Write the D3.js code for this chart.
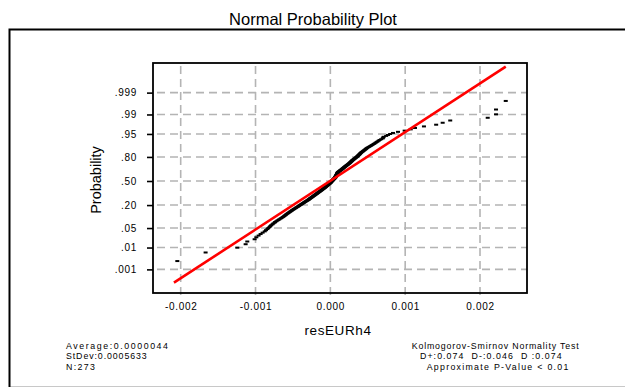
<!DOCTYPE html>
<html><head><meta charset="utf-8">
<script src="https://cdn.jsdelivr.net/npm/d3@7"></script>
<style>body{margin:0;background:#fff}svg{display:block}</style>
</head><body>
<svg id="c" width="625" height="388"></svg>
<script>
// sorted residuals (resEURh4)
const residuals = [
-0.002045,-0.001667,-0.001243,-0.001132,-0.00111,-0.001012,-0.000989,-0.000959,-0.000932,-0.000905,
-0.000877,-0.00086,-0.000841,-0.000828,-0.000813,-0.000802,-0.00079,-0.000774,-0.000763,-0.000747,
-0.000738,-0.000723,-0.000709,-0.000694,-0.000682,-0.000667,-0.000655,-0.000643,-0.000632,-0.00062,
-0.000611,-0.000602,-0.000593,-0.000584,-0.000575,-0.000565,-0.000556,-0.000547,-0.000538,-0.000529,
-0.00052,-0.000512,-0.000503,-0.000494,-0.000486,-0.000477,-0.000468,-0.000459,-0.000451,-0.000442,
-0.000434,-0.000427,-0.000419,-0.000412,-0.000404,-0.000396,-0.000389,-0.000381,-0.000374,-0.000366,
-0.000359,-0.000352,-0.000345,-0.000338,-0.000331,-0.000323,-0.000316,-0.000309,-0.000302,-0.000295,
-0.000289,-0.000284,-0.000278,-0.000272,-0.000267,-0.000261,-0.000255,-0.000249,-0.000244,-0.000238,
-0.000232,-0.000227,-0.000221,-0.000216,-0.00021,-0.000205,-0.000199,-0.000194,-0.000188,-0.000183,
-0.000178,-0.000173,-0.000168,-0.000163,-0.000158,-0.000153,-0.000147,-0.000142,-0.000137,-0.000132,
-0.000127,-0.000122,-0.000117,-0.000112,-0.000108,-0.000103,-0.000098,-0.000093,-0.000088,-0.000083,
-0.000079,-0.000075,-0.00007,-0.000066,-0.000062,-0.000058,-0.000054,-0.000049,-0.000045,-0.000041,
-0.000037,-0.000033,-0.000029,-0.000025,-0.000021,-0.000016,-0.000012,-0.000008,-0.000004,0,
0.000003,0.000006,0.000009,0.000012,0.000015,0.000019,0.000022,0.000025,0.000028,0.000031,
0.000034,0.000037,0.000041,0.000044,0.000047,0.000051,0.000054,0.000057,0.000061,0.000064,
0.000066,0.000068,0.00007,0.000072,0.000074,0.000076,0.000078,0.00008,0.000082,0.000084,
0.000086,0.000088,0.000089,0.000091,0.000093,0.000095,0.000097,0.000098,0.0001,0.000102,
0.000107,0.000112,0.000117,0.000122,0.000127,0.000131,0.000136,0.000141,0.000146,0.000151,
0.000156,0.000161,0.000165,0.00017,0.000175,0.000179,0.000184,0.000189,0.000193,0.000198,
0.000203,0.000209,0.000214,0.000219,0.000225,0.00023,0.000235,0.000241,0.000246,0.000251,
0.000256,0.000261,0.000265,0.00027,0.000275,0.000279,0.000284,0.000289,0.000293,0.000298,
0.000304,0.00031,0.000316,0.000322,0.000328,0.000334,0.00034,0.000346,0.000352,0.000358,
0.000363,0.000369,0.000374,0.00038,0.000385,0.00039,0.000396,0.000401,0.000407,0.000412,
0.00042,0.000428,0.000436,0.000444,0.000452,0.00046,0.000468,0.000476,0.000484,0.000492,
0.000505,0.000517,0.00053,0.000543,0.000555,0.000568,0.000581,0.000593,0.000606,0.000619,
0.000632,0.000646,0.000659,0.000679,0.000699,0.000706,0.000713,0.000746,0.00077,0.000799,
0.000837,0.000904,0.000993,0.001074,0.001131,0.001251,0.001414,0.001501,0.001602,0.002103,
0.002214,0.002214,0.002344
];
const xTicks = [-0.002, -0.001, 0, 0.001, 0.002];
const xTickLabels = ["-0.002", "-0.001", "0.000", "0.001", "0.002"];
const probTicks = [0.001, 0.01, 0.05, 0.20, 0.50, 0.80, 0.95, 0.99, 0.999];
const probTickLabels = [".001", ".01", ".05", ".20", ".50", ".80", ".95", ".99", ".999"];
const fitLineX = [-0.00209, 0.002344];
const fitLineP = [0.00019, 0.999968];
const titleText = "Normal Probability  Plot";
const xLabel = "resEURh4";
const yLabel = "Probability";
const statsLeft = ["Average:0.0000044", "StDev:0.0005633", "N:273"];
const statsRight = ["Kolmogorov-Smirnov Normality Test", "D+:0.074  D-:0.046  D :0.074", "Approximate P-Value < 0.01"];

function invNorm(p){
  const a=[-3.969683028665376e+01,2.209460984245205e+02,-2.759285104469687e+02,1.383577518672690e+02,-3.066479806614716e+01,2.506628277459239e+00];
  const b=[-5.447609879822406e+01,1.615858368580409e+02,-1.556989798598866e+02,6.680131188771972e+01,-1.328068155288572e+01];
  const c=[-7.784894002430293e-03,-3.223964580411365e-01,-2.400758277161838e+00,-2.549732539343734e+00,4.374664141464968e+00,2.938163982698783e+00];
  const d=[7.784695709041462e-03,3.224671290700398e-01,2.445134137142996e+00,3.754408661907416e+00];
  const pl=0.02425, ph=1-pl; let q,r;
  if(p<pl){q=Math.sqrt(-2*Math.log(p));return (((((c[0]*q+c[1])*q+c[2])*q+c[3])*q+c[4])*q+c[5])/((((d[0]*q+d[1])*q+d[2])*q+d[3])*q+1);}
  if(p<=ph){q=p-0.5;r=q*q;return (((((a[0]*r+a[1])*r+a[2])*r+a[3])*r+a[4])*r+a[5])*q/(((((b[0]*r+b[1])*r+b[2])*r+b[3])*r+b[4])*r+1);}
  q=Math.sqrt(-2*Math.log(1-p));return -(((((c[0]*q+c[1])*q+c[2])*q+c[3])*q+c[4])*q+c[5])/((((d[0]*q+d[1])*q+d[2])*q+d[3])*q+1);
}

const n = residuals.length;
const points = residuals.map((v,i)=>({x:v, p:(i+1-0.3)/(n+0.4)}));

const P = {left:153, top:63, right:527, bottom:293};
const x = d3.scaleLinear().domain([-0.00237, 0.002628]).range([P.left, P.right]);
const yz = d3.scaleLinear().domain([-3.916, 4.126]).range([P.bottom, P.top]);
const y = p => yz(invNorm(p));

const svg = d3.select("#c");
const FONT = "'Liberation Sans', Arial, sans-serif";

// outer frame
svg.append("line").attr("x1",9).attr("x2",625).attr("y1",386.5).attr("y2",386.5).attr("stroke","#c8c8c8").attr("stroke-width",1);
svg.append("path").attr("d","M9.5,387V29.5H625").attr("fill","none").attr("stroke","#000").attr("stroke-width",2);

// grid
const grid = svg.append("g").attr("stroke","#b4b4b4").attr("stroke-width",1.6).attr("stroke-dasharray","8,5");
grid.selectAll("line.h").data(probTicks).join("line").attr("class","h")
  .attr("x1",P.left+4).attr("x2",P.right).attr("y1",d=>y(d)).attr("y2",d=>y(d));
grid.selectAll("line.v").data(xTicks).join("line").attr("class","v")
  .attr("x1",d=>x(d)).attr("x2",d=>x(d)).attr("y1",P.top+3).attr("y2",P.bottom+6);

// points
svg.append("g").selectAll("rect").data(points).join("rect")
  .attr("x",d=>x(d.x)-2).attr("y",d=>y(d.p)-1).attr("width",4).attr("height",2).attr("fill","#000");

// fitted line
svg.append("line").attr("x1",x(fitLineX[0])).attr("y1",y(fitLineP[0]))
  .attr("x2",x(fitLineX[1])).attr("y2",y(fitLineP[1]))
  .attr("stroke","#ff0000").attr("stroke-width",2.6);

// plot frame
svg.append("rect").attr("x",P.left).attr("y",P.top).attr("width",P.right-P.left).attr("height",P.bottom-P.top)
  .attr("fill","none").attr("stroke","#000").attr("stroke-width",1.8);

// axes
const yAxis = d3.axisLeft(yz).tickValues(probTicks.map(invNorm)).tickFormat((d,i)=>probTickLabels[i]).tickSize(6).tickPadding(10);
const gy = svg.append("g").attr("transform",`translate(${P.left},0)`).call(yAxis);
gy.select(".domain").remove();
gy.selectAll("line").attr("stroke","#000").attr("stroke-width",1.6);
gy.selectAll("text").attr("font-family",FONT).attr("font-size",10).attr("letter-spacing",0.7).attr("fill","#000");

const xAxis = d3.axisBottom(x).tickValues(xTicks).tickFormat((d,i)=>xTickLabels[i]).tickSize(0).tickPadding(9.5);
const gx = svg.append("g").attr("transform",`translate(0,${P.bottom})`).call(xAxis);
gx.select(".domain").remove();
gx.selectAll("text").attr("font-family",FONT).attr("font-size",10).attr("letter-spacing",0.7).attr("fill","#000");

// titles
svg.append("text").attr("x",313).attr("y",25).attr("text-anchor","middle").attr("font-family",FONT).attr("font-size",16.5).text(titleText);
svg.append("text").attr("x",338).attr("y",335).attr("text-anchor","middle").attr("font-family",FONT).attr("font-size",13.5).attr("letter-spacing",0.6).text(xLabel);
svg.append("text").attr("transform","translate(100.5,180) rotate(-90)").attr("text-anchor","middle").attr("font-family",FONT).attr("font-size",14.5).text(yLabel);

// stats
const leftW = [102, 80.7, 29];
svg.append("g").selectAll("text").data(statsLeft).join("text")
  .attr("x",66).attr("y",(d,i)=>348.5+i*10.5).attr("font-family",FONT).attr("font-size",8.8)
  .attr("textLength",(d,i)=>leftW[i]).attr("lengthAdjust","spacing").text(d=>d);
const rightX = [411.7, 420, 426.7], rightW = [167, 141.7, 141.7];
svg.append("g").selectAll("text").data(statsRight).join("text")
  .attr("x",(d,i)=>rightX[i]).attr("y",(d,i)=>348.5+i*10.5).attr("font-family",FONT).attr("font-size",8.8)
  .attr("textLength",(d,i)=>rightW[i]).attr("lengthAdjust","spacing").style("white-space","pre").text(d=>d);
</script>
</body></html>
